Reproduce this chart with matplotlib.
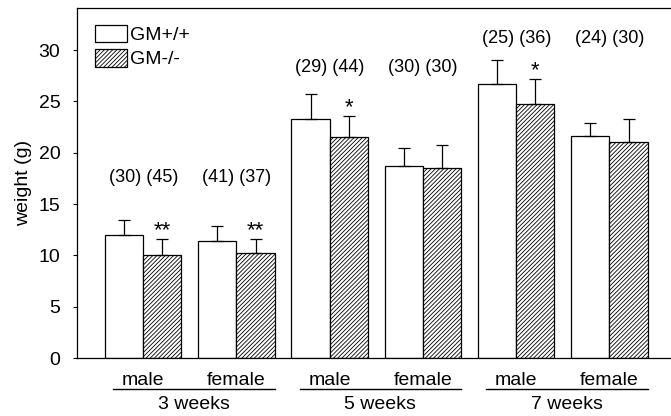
import numpy as np
import matplotlib
matplotlib.use("Agg")
import matplotlib.pyplot as plt

plt.rcParams['font.family'] = ['Liberation Sans', 'DejaVu Sans']
plt.rcParams['hatch.linewidth'] = 0.6

# groups: 3wk male, 3wk female, 5wk male, 5wk female, 7wk male, 7wk female
sexes = ["male", "female", "male", "female", "male", "female"]
ages = ["3 weeks", "5 weeks", "7 weeks"]
wt_mean = [12.0, 11.4, 23.3, 18.7, 26.7, 21.6]
wt_sd = [1.4, 1.5, 2.4, 1.8, 2.3, 1.25]
ko_mean = [10.0, 10.2, 21.5, 18.5, 24.7, 21.0]
ko_sd = [1.6, 1.4, 2.1, 2.3, 2.5, 2.3]
n_wt = [30, 41, 29, 30, 25, 24]
n_ko = [45, 37, 44, 30, 36, 30]
n_label_y = [17.6, 17.6, 28.3, 28.3, 31.1, 31.1]
stars = ["**", "**", "*", "", "*", ""]

fs = 14

fig = plt.figure(figsize=(6.71, 4.16), dpi=100)
ax = fig.add_axes([0.1148, 0.1394, 0.8852, 0.8414])

x = np.arange(len(sexes))
w = 0.41

ax.bar(x - w / 2, wt_mean, w, color="white", edgecolor="black", linewidth=0.9,
       label="GM+/+")
ax.bar(x + w / 2, ko_mean, w, color="white", edgecolor="black", linewidth=0.9,
       hatch="////////", label="GM-/-")
ax.errorbar(x - w / 2, wt_mean, yerr=[np.zeros(len(x)), wt_sd], fmt="none",
            ecolor="black", elinewidth=0.9, capsize=4.5, capthick=0.9)
ax.errorbar(x + w / 2, ko_mean, yerr=[np.zeros(len(x)), ko_sd], fmt="none",
            ecolor="black", elinewidth=0.9, capsize=4.5, capthick=0.9)

# sample sizes and significance marks
for i in range(len(x)):
    ax.text(x[i], n_label_y[i], f"({n_wt[i]}) ({n_ko[i]})", ha="center",
            va="center", fontsize=13)
    if stars[i]:
        ax.text(x[i] + w / 2, ko_mean[i] + ko_sd[i] + 0.8, stars[i],
                ha="center", va="center", fontsize=16)

ax.set_xlim(-0.71, 5.66)
ax.set_ylim(0, 34.1)
ax.set_yticks([0, 5, 10, 15, 20, 25, 30])
ax.set_xticks([])
ax.tick_params(axis="y", labelsize=fs, length=3, pad=9, direction="out")
ax.set_ylabel("weight (g)", fontsize=fs)
ax.yaxis.set_label_coords(-0.076, 0.5)
ax.spines["right"].set_visible(False)
for s in ["left", "bottom", "top"]:
    ax.spines[s].set_linewidth(0.9)

# category labels below axis
tr = ax.get_xaxis_transform()
for i in range(len(x)):
    ax.text(x[i], -0.063, sexes[i], transform=tr, ha="center", va="center",
            fontsize=fs)
for j, age in enumerate(ages):
    x0 = x[2 * j] - 0.32
    x1 = x[2 * j + 1] + 0.41
    ax.plot([x0, x1], [-0.089, -0.089], transform=tr, color="black",
            linewidth=1.0, clip_on=False)
    ax.text((x[2 * j] + x[2 * j + 1]) / 2 + 0.04, -0.134, age, transform=tr,
            ha="center", va="center", fontsize=fs)

ax.legend(loc="upper left", bbox_to_anchor=(0.01, 0.985), frameon=False,
          fontsize=fs, handlelength=1.65, handleheight=1.0, handletextpad=0.15,
          labelspacing=0.25, borderaxespad=0.2)

fig.savefig("out.png", dpi=100)
